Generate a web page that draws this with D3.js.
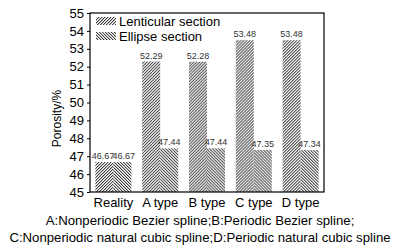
<!DOCTYPE html>
<html>
<head>
<meta charset="utf-8">
<script src="https://cdn.jsdelivr.net/npm/d3@7"></script>
<style>
  body { margin: 0; background: #fff; }
  svg { display: block; font-family: "Liberation Sans", Arial, sans-serif; }
</style>
</head>
<body>
<div id="chart"></div>
<script>
// data
const categories = ['Reality', 'A type', 'B type', 'C type', 'D type'];
const seriesNames = ['Lenticular section', 'Ellipse section'];
const lenticular = [46.67, 52.29, 52.28, 53.48, 53.48];
const ellipse = [46.67, 47.44, 47.44, 47.35, 47.34];
const yTicks = [45, 46, 47, 48, 49, 50, 51, 52, 53, 54, 55];
const captionLines = [
    'A:Nonperiodic Bezier spline;B:Periodic Bezier spline;',
    'C:Nonperiodic natural cubic spline;D:Periodic natural cubic spline'
];

const width = 400, height = 252;
const margin = { top: 13, right: 76, bottom: 60, left: 90 };

const svg = d3.select('#chart').append('svg')
    .attr('width', width)
    .attr('height', height);

// pixel hatch patterns, 3x3 tile: dark diagonal plus a light grey neighbour
const defs = svg.append('defs');
function hatch(id, forward) {
    const p = defs.append('pattern')
        .attr('id', id)
        .attr('patternUnits', 'userSpaceOnUse')
        .attr('width', 3)
        .attr('height', 3);
    p.append('rect').attr('width', 3).attr('height', 3).attr('fill', '#fff');
    for (let r = 0; r < 3; r++) {
        const c = forward ? 2 - r : r;
        p.append('rect').attr('x', c).attr('y', r).attr('width', 1).attr('height', 1)
            .attr('fill', '#3a3a3a').attr('shape-rendering', 'crispEdges');
        p.append('rect').attr('x', (c + 1) % 3).attr('y', r).attr('width', 1).attr('height', 1)
            .attr('fill', '#bdbdbd').attr('shape-rendering', 'crispEdges');
    }
}
hatch('hatchL', true);
hatch('hatchE', false);
const fills = ['url(#hatchL)', 'url(#hatchE)'];

const x0 = d3.scaleBand()
    .domain(categories)
    .range([margin.left, width - margin.right]);

const groupW = 36;
const x1 = d3.scaleBand()
    .domain([0, 1])
    .range([(x0.bandwidth() - groupW) / 2, (x0.bandwidth() + groupW) / 2]);

const y = d3.scaleLinear()
    .domain([45, 55])
    .range([height - margin.bottom, margin.top]);

const rows = categories.map((c, i) => ({ cat: c, vals: [lenticular[i], ellipse[i]] }));

const groups = svg.append('g').selectAll('g')
    .data(rows)
    .join('g')
    .attr('transform', d => `translate(${x0(d.cat)},0)`);

groups.selectAll('rect')
    .data(d => d.vals.map((v, k) => ({ v, k })))
    .join('rect')
    .attr('x', d => x1(d.k))
    .attr('width', x1.bandwidth())
    .attr('y', d => y(d.v))
    .attr('height', d => y(45) - y(d.v))
    .attr('fill', d => fills[d.k]);

// value labels; when both bars are about equal, push the labels apart
groups.selectAll('text.val')
    .data(d => d.vals.map((v, k) => ({ v, k, close: Math.abs(d.vals[0] - d.vals[1]) < 0.5 })))
    .join('text')
    .attr('class', 'val')
    .attr('x', d => {
        const c = x1(d.k) + x1.bandwidth() / 2;
        if (!d.close) return c;
        return d.k === 0 ? x1(0) + x1.bandwidth() + 1 : x1(1) - 1;
    })
    .attr('y', d => y(d.v) - 3)
    .attr('text-anchor', d => d.close ? (d.k === 0 ? 'end' : 'start') : 'middle')
    .style('font-size', '9px')
    .style('fill', '#333')
    .text(d => d.v.toFixed(2));

// frame
svg.append('rect')
    .attr('x', margin.left)
    .attr('y', margin.top)
    .attr('width', width - margin.left - margin.right)
    .attr('height', height - margin.top - margin.bottom)
    .attr('fill', 'none')
    .attr('stroke', '#000')
    .attr('stroke-width', 1.2);

// y axis
const yAxis = svg.append('g')
    .attr('transform', `translate(${margin.left},0)`)
    .call(d3.axisLeft(y).tickValues(yTicks).tickSize(3).tickPadding(3).tickFormat(d3.format('d')));
yAxis.select('.domain').remove();
yAxis.selectAll('text').style('font-size', '13px').style('fill', '#000');

// x axis labels
const xAxis = svg.append('g')
    .attr('transform', `translate(0,${height - margin.bottom})`)
    .call(d3.axisBottom(x0).tickSize(0).tickPadding(6));
xAxis.select('.domain').remove();
xAxis.selectAll('text').style('font-size', '13px').style('fill', '#000');

// y label
svg.append('text')
    .attr('transform', `translate(61,${(margin.top + height - margin.bottom) / 2 + 16}) rotate(-90)`)
    .attr('text-anchor', 'middle')
    .style('font-size', '12px')
    .text('Porosity/%');

// legend
const legend = svg.append('g').attr('transform', `translate(96,17)`);
seriesNames.forEach((name, k) => {
    legend.append('rect')
        .attr('x', 0).attr('y', k * 15)
        .attr('width', 20).attr('height', 8)
        .attr('fill', fills[k]);
    legend.append('text')
        .attr('x', 23).attr('y', k * 15 + 9)
        .style('font-size', '13px')
        .text(name);
});

// caption
svg.append('g').selectAll('text')
    .data(captionLines)
    .join('text')
    .attr('x', width / 2)
    .attr('y', (d, i) => 225 + i * 17)
    .attr('text-anchor', 'middle')
    .style('font-size', '13.2px')
    .text(d => d);
</script>
</body>
</html>
